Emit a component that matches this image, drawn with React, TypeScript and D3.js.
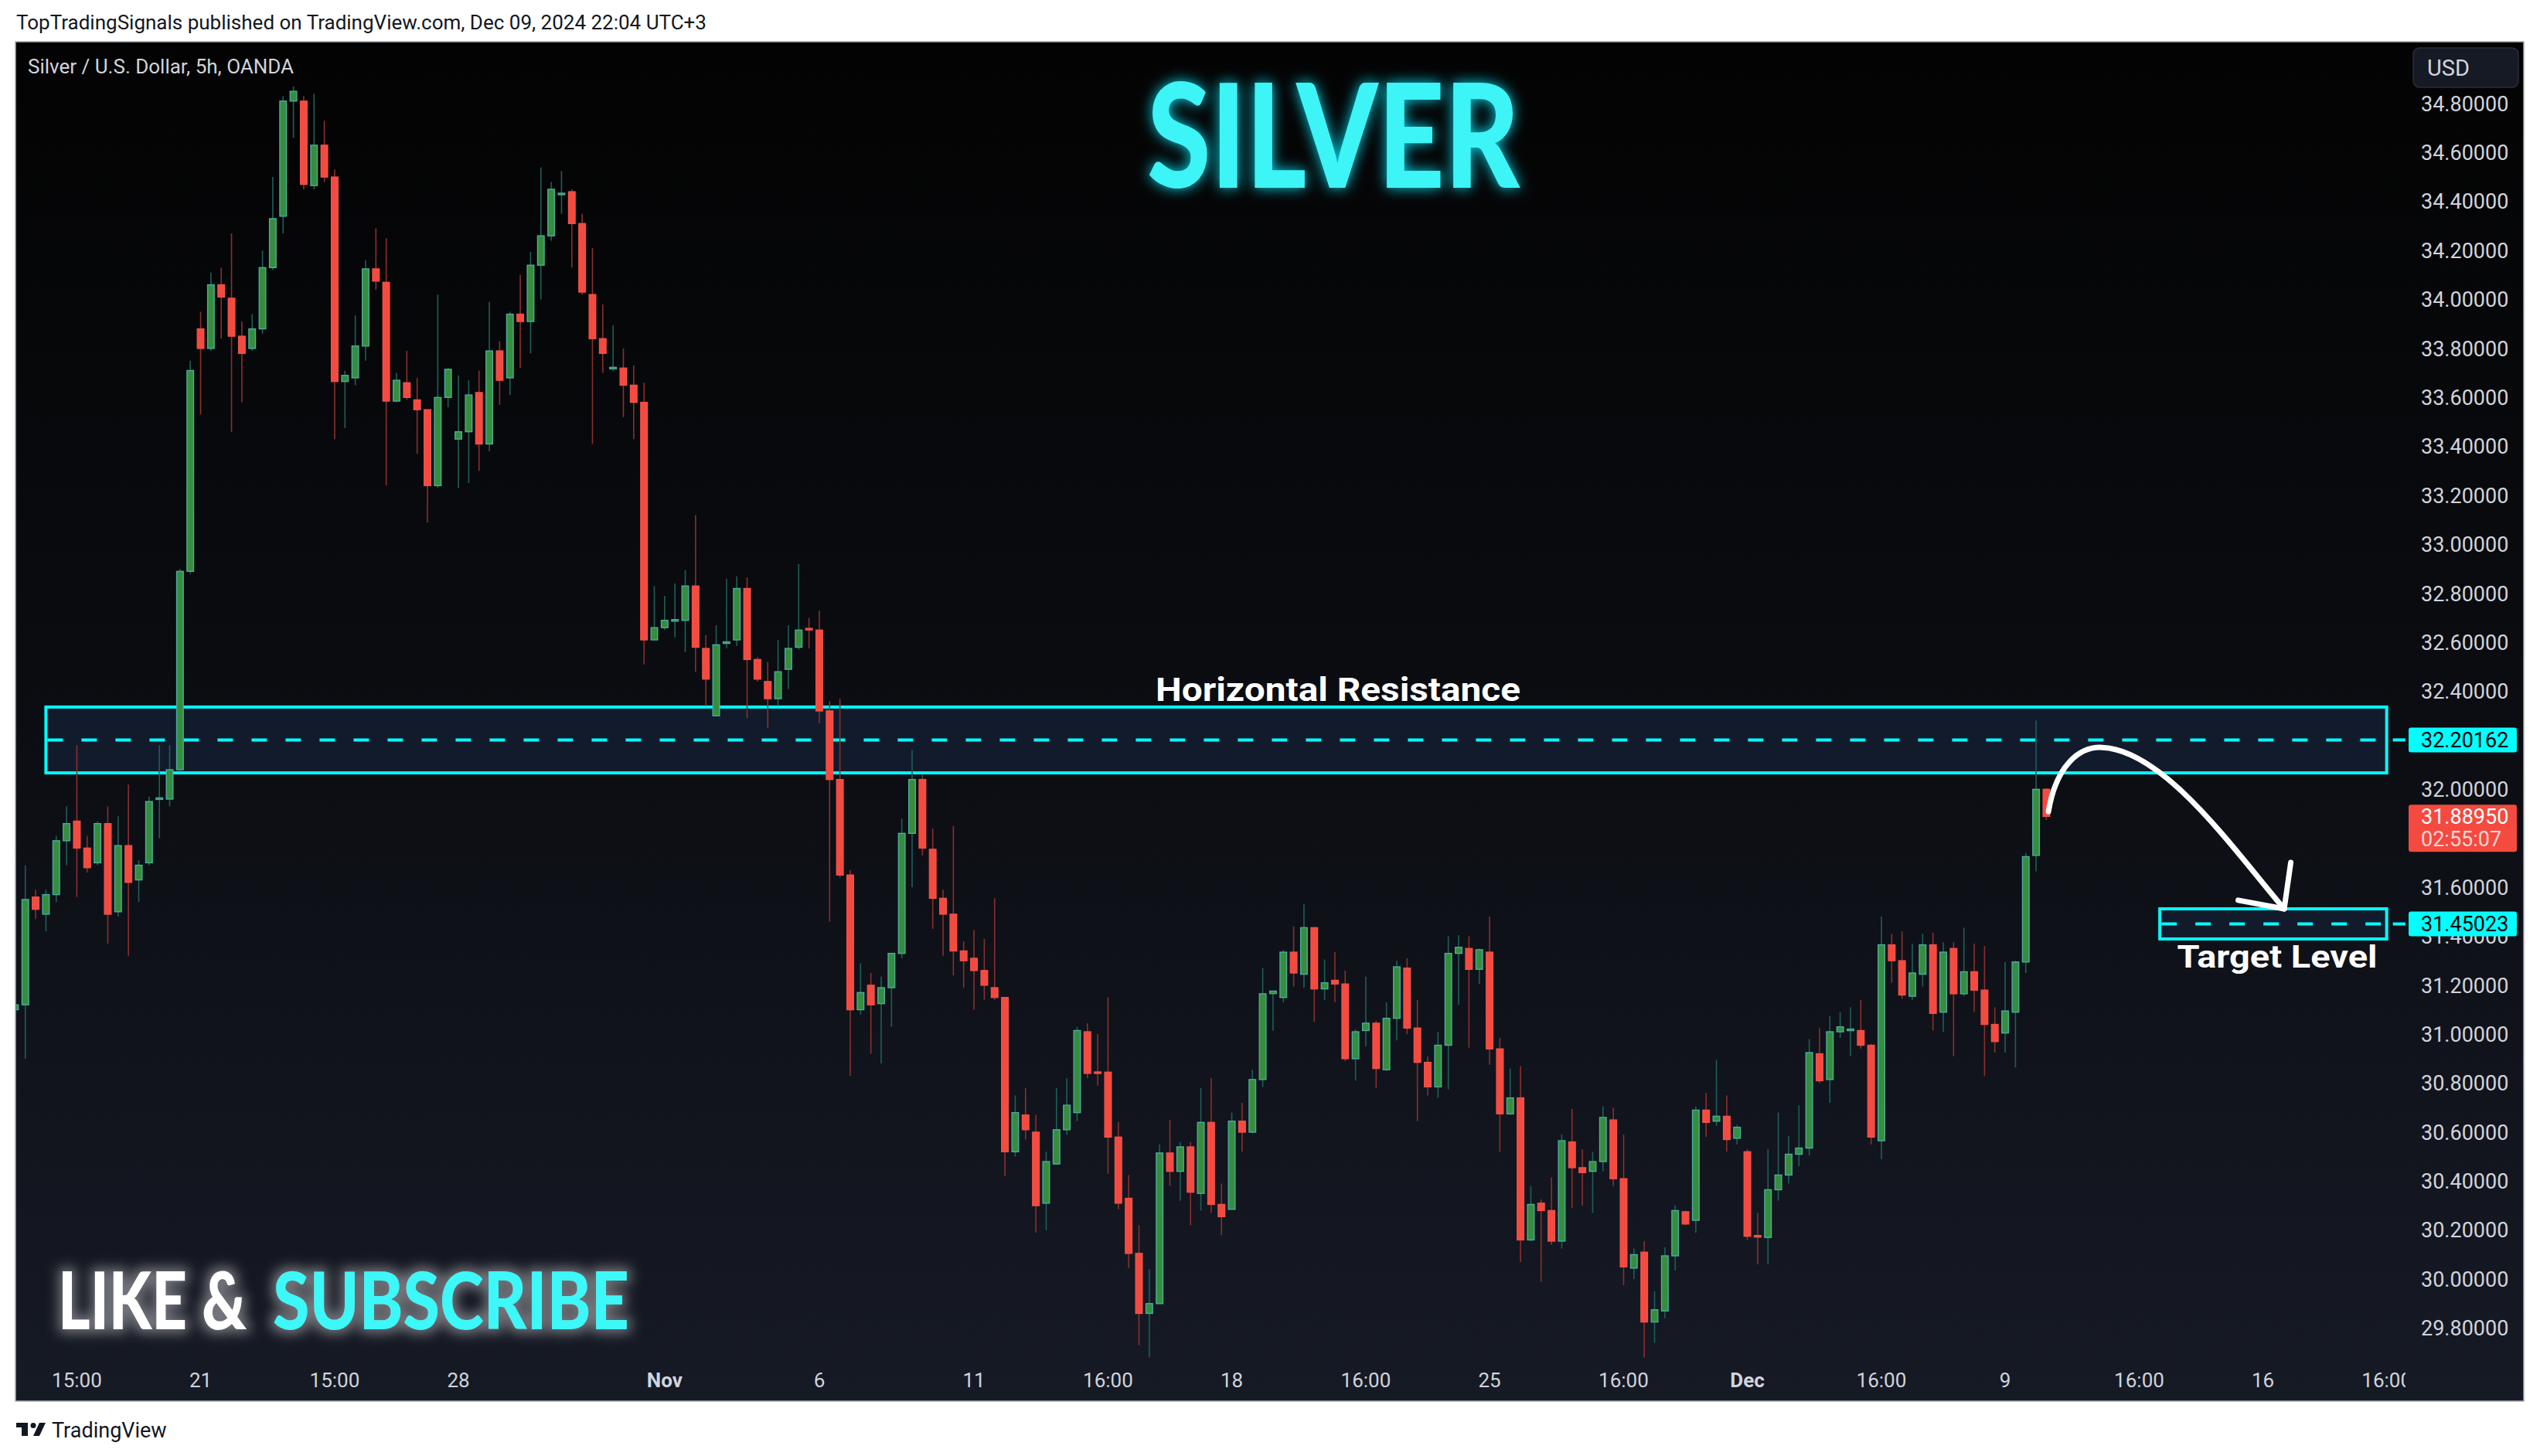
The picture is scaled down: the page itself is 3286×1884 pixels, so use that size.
import { useEffect, useLayoutEffect, useRef, useState } from 'react';
import * as d3 from 'd3';

// 5h candles, Oct 17 -> Dec 9 2024
const opens = [
  31.10, 31.12, 31.56, 31.49, 31.57, 31.79, 31.87, 31.76, 31.70, 31.86,
  31.50, 31.77, 31.63, 31.70, 31.96, 31.96, 32.08, 32.89, 33.88, 33.80,
  34.06, 34.005, 33.85, 33.80, 33.88, 34.13, 34.34, 34.81, 34.81, 34.465,
  34.63, 34.50, 33.665, 33.68, 33.81, 34.125, 34.07, 33.585, 33.66, 33.59,
  33.55, 33.24, 33.60, 33.43, 33.46, 33.62, 33.41, 33.79, 33.68, 33.94,
  33.91, 34.14, 34.26, 34.433, 34.44, 34.31, 34.02, 33.84, 33.722, 33.72,
  33.65, 33.58, 32.61, 32.66, 32.692, 32.69, 32.83, 32.575, 32.30, 32.601,
  32.61, 32.82, 32.53, 32.44, 32.37, 32.49, 32.58, 32.657, 32.65, 32.32,
  32.04, 31.65, 31.10, 31.20, 31.125, 31.19, 31.33, 31.82, 32.04, 31.755,
  31.555, 31.49, 31.34, 31.31, 31.26, 31.19, 31.15, 30.52, 30.67, 30.60,
  30.31, 30.47, 30.61, 30.68, 31.01, 30.846, 30.845, 30.58, 30.33, 30.105,
  29.86, 29.90, 30.515, 30.44, 30.54, 30.35, 30.64, 30.305, 30.285, 30.645,
  30.60, 30.815, 31.166, 31.15, 31.335, 31.245, 31.435, 31.185, 31.22, 31.205,
  30.90, 31.015, 31.045, 30.855, 31.065, 31.27, 31.025, 30.885, 30.785, 30.955,
  31.33, 31.35, 31.265, 31.335, 30.94, 30.675, 30.74, 30.16, 30.31, 30.28,
  30.155, 30.56, 30.455, 30.44, 30.48, 30.65, 30.41, 30.045, 30.11, 29.825,
  29.87, 30.095, 30.275, 30.24, 30.69, 30.645, 30.665, 30.575, 30.52, 30.178,
  30.17, 30.365, 30.425, 30.51, 30.535, 30.92, 30.815, 31.01, 31.020, 31.015,
  30.955, 30.565, 31.365, 31.30, 31.155, 31.245, 31.365, 31.09, 31.35, 31.165,
  31.255, 31.18, 31.04, 31.005, 31.09, 31.295, 31.73, 32.00,
];
const highs = [
  31.21, 31.69, 31.59, 31.59, 31.81, 31.93, 32.18, 31.81, 31.87, 31.93,
  31.89, 32.02, 31.71, 31.97, 32.18, 32.18, 32.90, 33.75, 33.95, 34.11,
  34.13, 34.27, 33.91, 33.94, 34.20, 34.50, 34.83, 34.87, 34.83, 34.84,
  34.73, 34.53, 33.71, 33.935, 34.16, 34.29, 34.25, 33.70, 33.79, 33.68,
  33.55, 34.02, 33.72, 33.69, 33.67, 33.71, 33.99, 33.83, 33.95, 34.10,
  34.195, 34.54, 34.48, 34.525, 34.45, 34.35, 34.21, 33.98, 33.895, 33.80,
  33.73, 33.66, 32.83, 32.79, 32.84, 32.895, 33.12, 32.63, 32.67, 32.86,
  32.87, 32.865, 32.54, 32.52, 32.61, 32.67, 32.92, 32.70, 32.73, 32.36,
  32.37, 31.67, 31.29, 31.25, 31.235, 31.33, 31.88, 32.16, 32.06, 31.84,
  31.59, 31.85, 31.38, 31.425, 31.39, 31.555, 31.15, 30.75, 30.78, 30.67,
  30.52, 30.78, 30.82, 31.03, 31.045, 31.00, 31.15, 30.64, 30.425, 30.22,
  30.04, 30.55, 30.65, 30.56, 30.56, 30.78, 30.82, 30.39, 30.68, 30.72,
  30.855, 31.27, 31.176, 31.345, 31.44, 31.53, 31.435, 31.305, 31.335, 31.26,
  31.02, 31.235, 31.055, 31.13, 31.30, 31.31, 31.14, 30.91, 31.01, 31.40,
  31.405, 31.40, 31.35, 31.48, 30.985, 30.86, 30.87, 30.38, 30.325, 30.415,
  30.59, 30.695, 30.53, 30.52, 30.705, 30.70, 30.59, 30.125, 30.155, 29.95,
  30.13, 30.30, 30.28, 30.705, 30.76, 30.895, 30.75, 30.63, 30.53, 30.27,
  30.53, 30.68, 30.585, 30.71, 30.98, 31.025, 31.075, 31.09, 31.11, 31.14,
  30.96, 31.48, 31.41, 31.42, 31.37, 31.41, 31.415, 31.375, 31.375, 31.435,
  31.37, 31.36, 31.11, 31.295, 31.30, 31.74, 32.28, 32.005,
];
const lows = [
  31.04, 30.90, 31.47, 31.42, 31.54, 31.69, 31.56, 31.66, 31.69, 31.37,
  31.48, 31.32, 31.54, 31.69, 31.80, 31.93, 32.075, 32.88, 33.53, 33.79,
  33.84, 33.46, 33.58, 33.79, 33.86, 34.12, 34.27, 34.66, 34.45, 34.45,
  34.48, 33.43, 33.475, 33.65, 33.75, 34.04, 33.24, 33.58, 33.59, 33.37,
  33.09, 33.23, 33.56, 33.23, 33.25, 33.30, 33.38, 33.57, 33.61, 33.72,
  33.78, 34.00, 34.24, 34.35, 34.13, 34.02, 33.41, 33.70, 33.707, 33.52,
  33.43, 32.51, 32.61, 32.65, 32.62, 32.56, 32.48, 32.34, 32.30, 32.575,
  32.585, 32.29, 32.44, 32.25, 32.34, 32.41, 32.57, 32.575, 32.27, 31.46,
  31.64, 30.83, 31.08, 30.92, 30.88, 31.03, 31.31, 31.60, 31.73, 31.43,
  31.32, 31.24, 31.19, 31.10, 31.14, 31.14, 30.42, 30.50, 30.57, 30.19,
  30.20, 30.47, 30.59, 30.645, 30.82, 30.79, 30.43, 30.285, 30.045, 29.73,
  29.68, 29.90, 30.38, 30.32, 30.22, 30.28, 30.27, 30.18, 30.285, 30.52,
  30.595, 30.785, 31.014, 31.13, 31.195, 31.19, 31.05, 31.14, 31.13, 30.89,
  30.81, 30.95, 30.78, 30.85, 30.975, 31.00, 30.645, 30.75, 30.74, 30.775,
  31.12, 30.945, 31.205, 30.875, 30.52, 30.67, 30.07, 30.155, 29.99, 30.14,
  30.125, 30.29, 30.30, 30.27, 30.44, 30.38, 29.975, 30.00, 29.68, 29.74,
  29.84, 30.035, 30.22, 30.19, 30.58, 30.625, 30.52, 30.55, 30.16, 30.06,
  30.06, 30.32, 30.39, 30.46, 30.505, 30.80, 30.72, 30.985, 30.91, 30.94,
  30.55, 30.49, 31.21, 31.145, 31.14, 31.195, 31.015, 31.01, 30.91, 31.155,
  31.09, 30.83, 30.925, 30.925, 30.865, 31.25, 31.665, 31.875,
];
const closes = [
  31.12, 31.55, 31.51, 31.57, 31.79, 31.86, 31.76, 31.68, 31.86, 31.49,
  31.77, 31.62, 31.69, 31.95, 31.965, 32.08, 32.89, 33.71, 33.80, 34.06,
  34.01, 33.85, 33.78, 33.88, 34.13, 34.33, 34.81, 34.85, 34.47, 34.63,
  34.50, 33.665, 33.69, 33.81, 34.125, 34.075, 33.585, 33.67, 33.60, 33.55,
  33.24, 33.60, 33.715, 33.46, 33.61, 33.41, 33.79, 33.67, 33.94, 33.91,
  34.14, 34.26, 34.45, 34.434, 34.31, 34.03, 33.84, 33.78, 33.723, 33.65,
  33.58, 32.61, 32.66, 32.69, 32.693, 32.83, 32.58, 32.45, 32.59, 32.602,
  32.82, 32.53, 32.45, 32.37, 32.48, 32.575, 32.65, 32.653, 32.32, 32.04,
  31.65, 31.10, 31.17, 31.12, 31.19, 31.33, 31.82, 32.04, 31.76, 31.555,
  31.49, 31.34, 31.30, 31.26, 31.20, 31.15, 30.52, 30.68, 30.61, 30.30,
  30.48, 30.61, 30.71, 31.015, 30.84, 30.845, 30.58, 30.31, 30.105, 29.86,
  29.90, 30.515, 30.44, 30.54, 30.355, 30.64, 30.305, 30.255, 30.645, 30.60,
  30.815, 31.165, 31.176, 31.335, 31.25, 31.435, 31.185, 31.21, 31.205, 30.90,
  31.01, 31.045, 30.86, 31.065, 31.275, 31.025, 30.885, 30.785, 30.955, 31.33,
  31.355, 31.265, 31.345, 30.94, 30.675, 30.74, 30.16, 30.305, 30.28, 30.155,
  30.565, 30.455, 30.435, 30.48, 30.66, 30.41, 30.05, 30.10, 29.825, 29.875,
  30.095, 30.28, 30.225, 30.69, 30.64, 30.665, 30.57, 30.62, 30.175, 30.176,
  30.365, 30.425, 30.51, 30.535, 30.925, 30.81, 31.01, 31.03, 31.021, 30.955,
  30.58, 31.365, 31.30, 31.16, 31.25, 31.365, 31.085, 31.335, 31.165, 31.255,
  31.18, 31.04, 30.97, 31.095, 31.295, 31.725, 32.00, 31.8895,
];

// time axis: candle index of each label
const timeTickIndex = [6, 18, 31, 43, 63, 78, 93, 106, 118, 131, 143, 156, 168, 181, 193, 206, 218, 230];
const timeTickLabels = ['15:00', '21', '15:00', '28', 'Nov', '6', '11', '16:00', '18', '16:00', '25', '16:00', 'Dec', '16:00', '9', '16:00', '16', '16:00'];
const monthLabels = ['Nov', 'Dec'];

const resistanceZone = [32.067, 32.336];
const resistanceLevel = 32.20162;
const targetZone = [31.389, 31.512];
const targetLevel = 31.45023;
const zoneStartIndex = [3, 208];
const zoneEndIndex = 230;
const lastPrice = 31.8895;
const countdown = '02:55:07';

// arrow drawing (candle index, price)
const arrowPoints: [number, number][] = [
  [197.2, 31.909], [197.95, 32.099], [200.2, 32.175], [202.4, 32.171],
  [208.4, 32.162], [215.2, 31.752], [220.06, 31.512],
];
const arrowHead: [number, number][] = [[220.7, 31.701], [220.06, 31.512], [215.6, 31.547]];

const W = 3286;
const H = 1884;
const panel = { left: 20, top: 54, right: 3265, bottom: 1813 };
const plotRight = 3112;
const axisTop = 1760;

const UP = { body: '#378d3d', border: '#48ad9e', wick: '#1f5f58' };
const DOWN = { body: '#f44a3f', border: '#f2524a', wick: '#8a302d' };
const CYAN = '#00ffff';
const AXIS_TEXT = '#d1d4dc';
const FONT = 'Roboto, "Liberation Sans", sans-serif';
const AXIS_FS = 27;

// text squeezed horizontally to a given width (the banner font is condensed)
function FitText({ x, y, width, fill, children }: { x: number; y: number; width: number; fill: string; children: string }) {
  const ref = useRef<SVGTextElement>(null);
  const [k, setK] = useState(1);
  useLayoutEffect(() => {
    if (!ref.current) return;
    const w = ref.current.getComputedTextLength();
    if (w > 0) setK(width / w);
  }, [width]);
  return (
    <text ref={ref} transform={`translate(${x},${y}) scale(${k},1)`} fontSize={102} fontWeight={900}
      fontFamily="Lato, Roboto, sans-serif" fill={fill}>{children}</text>
  );
}

export default function App() {
  useEffect(() => {
    document.body.style.margin = '0';
    document.body.style.background = '#ffffff';
  }, []);

  const x = d3.scaleLinear().domain([0, 231.75]).range([19.4, 3111]);
  const y = d3.scaleLinear().domain([29.8, 34.8]).range([1718.5, 134]);
  const fmt = d3.format('.5f');

  // badges sit on top of the price scale; labels fully under them are not drawn
  const badgeBands: [number, number][] = [
    [y(resistanceLevel) - 16, y(resistanceLevel) + 16],
    [y(targetLevel) - 16, y(targetLevel) + 16],
    [y(lastPrice) - 15, y(lastPrice) + 46],
  ];
  const priceTicks = y.ticks(25).filter(t => {
    const ty = y(t);
    return !badgeBands.some(([a, b]) => ty - 9 >= a && ty + 9 <= b);
  });

  const bodyW = 8.6;

  const arrow = d3.path();
  const ap = arrowPoints.map(([i, p]) => [x(i), y(p)]);
  arrow.moveTo(ap[0][0], ap[0][1]);
  arrow.bezierCurveTo(ap[1][0], ap[1][1], ap[2][0], ap[2][1], ap[3][0], ap[3][1]);
  arrow.bezierCurveTo(ap[4][0], ap[4][1], ap[5][0], ap[5][1], ap[6][0], ap[6][1]);
  const head = d3.line()(arrowHead.map(([i, p]) => [x(i), y(p)] as [number, number]));

  const zone = (lo: number, hi: number, start: number, key: string) => (
    <rect key={key} x={x(start)} y={y(hi)} width={x(zoneEndIndex) - x(start)} height={y(lo) - y(hi)}
      fill="#121b2c" stroke={CYAN} strokeWidth={4} />
  );
  const dashed = (level: number, start: number, key: string) => (
    <g key={key}>
      <line x1={x(start) + 2} x2={x(zoneEndIndex) - 2} y1={y(level)} y2={y(level)}
        stroke={CYAN} strokeWidth={4} strokeDasharray="20 24" />
      <line x1={x(zoneEndIndex) + 8} x2={plotRight + 4} y1={y(level)} y2={y(level)} stroke={CYAN} strokeWidth={4} />
    </g>
  );
  const badge = (level: number, key: string) => (
    <g key={key}>
      <rect x={3116} y={y(level) - 16} width={140} height={32} rx={3} fill={CYAN} />
      <text x={3132} y={y(level)} dy="0.36em" fontSize={AXIS_FS} fontFamily={FONT} fill="#000">{fmt(level)}</text>
    </g>
  );

  return (
    <svg width={W} height={H} style={{ display: 'block' }} xmlns="http://www.w3.org/2000/svg">
      <defs>
        <linearGradient id="bg" x1="0" y1="0" x2="0" y2="1">
          <stop offset="0" stopColor="#030303" />
          <stop offset="0.5" stopColor="#0b0d12" />
          <stop offset="1" stopColor="#161a25" />
        </linearGradient>
        <clipPath id="plot">
          <rect x={panel.left + 1} y={panel.top} width={plotRight - panel.left - 1} height={axisTop - panel.top} />
        </clipPath>
        <clipPath id="timeAxis">
          <rect x={panel.left} y={axisTop} width={plotRight - panel.left} height={panel.bottom - axisTop} />
        </clipPath>
        <filter id="glowCyan" x="-20%" y="-40%" width="140%" height="180%">
          <feGaussianBlur in="SourceAlpha" stdDeviation="9" result="blur" />
          <feFlood floodColor="#00eaff" floodOpacity="0.9" />
          <feComposite in2="blur" operator="in" result="glow" />
          <feMerge>
            <feMergeNode in="glow" />
            <feMergeNode in="SourceGraphic" />
          </feMerge>
        </filter>
        <filter id="glowWhite" x="-10%" y="-40%" width="120%" height="180%">
          <feMorphology in="SourceAlpha" operator="dilate" radius="5" result="fat" />
          <feGaussianBlur in="fat" stdDeviation="8" result="blur" />
          <feFlood floodColor="#ffffff" floodOpacity="0.4" />
          <feComposite in2="blur" operator="in" result="glow" />
          <feMerge>
            <feMergeNode in="glow" />
            <feMergeNode in="SourceGraphic" />
          </feMerge>
        </filter>
      </defs>

      <rect x={0} y={0} width={W} height={H} fill="#ffffff" />
      <text x={21} y={38} fontSize={26} fontFamily={FONT} fill="#131722">
        TopTradingSignals published on TradingView.com, Dec 09, 2024 22:04 UTC+3
      </text>

      {/* chart panel */}
      <rect x={panel.left} y={panel.top} width={panel.right - panel.left} height={panel.bottom - panel.top}
        fill="url(#bg)" stroke="#a9acb4" strokeWidth={1.5} />

      <g clipPath="url(#plot)">
        {zone(resistanceZone[0], resistanceZone[1], zoneStartIndex[0], 'rz')}
        {zone(targetZone[0], targetZone[1], zoneStartIndex[1], 'tz')}
        {dashed(resistanceLevel, zoneStartIndex[0], 'rl')}
        {dashed(targetLevel, zoneStartIndex[1], 'tl')}

        {opens.map((o, i) => {
          const c = closes[i];
          const up = c >= o;
          const col = up ? UP : DOWN;
          const cx = x(i);
          const top = y(Math.max(o, c));
          const h = Math.max(y(Math.min(o, c)) - top, 2);
          return (
            <g key={i}>
              <line x1={cx} x2={cx} y1={y(highs[i])} y2={y(lows[i])} stroke={col.wick} strokeWidth={1.6} />
              <rect x={cx - bodyW / 2} y={top} width={bodyW} height={h} fill={col.body} stroke={col.border} strokeWidth={1.4} />
            </g>
          );
        })}
      </g>

      <text x={1731} y={y(resistanceZone[1]) - 8} textAnchor="middle" fontSize={43} fontWeight={700}
        fontFamily={FONT} fill="#ffffff" textLength={472} lengthAdjust="spacingAndGlyphs">Horizontal Resistance</text>
      <text x={2946} y={y(targetZone[0]) + 37} textAnchor="middle" fontSize={40} fontWeight={700}
        fontFamily={FONT} fill="#ffffff" textLength={259} lengthAdjust="spacingAndGlyphs">Target Level</text>

      <path d={arrow.toString()} fill="none" stroke="#ffffff" strokeWidth={7} strokeLinecap="round" />
      <path d={head ?? ''} fill="none" stroke="#ffffff" strokeWidth={7} strokeLinecap="round" strokeLinejoin="round" />

      {/* titles */}
      <text x={36} y={86} dy="0.35em" fontSize={26} fontFamily={FONT} fill={AXIS_TEXT}>Silver / U.S. Dollar, 5h, OANDA</text>
      <text x={1725} y={243} textAnchor="middle" fontSize={186} fontWeight={900} fontFamily="Lato, Roboto, sans-serif"
        fill="#3ef4f6" filter="url(#glowCyan)" textLength={482} lengthAdjust="spacingAndGlyphs">SILVER</text>
      <g filter="url(#glowWhite)">
        <FitText x={75} y={1720} width={244} fill="#ffffff">LIKE &amp;</FitText>
        <FitText x={353} y={1720} width={461} fill="#3cf8f8">SUBSCRIBE</FitText>
      </g>

      {/* price axis */}
      <rect x={3122} y={62} width={136} height={51} rx={8} fill="#161a24" stroke="#2a2e39" strokeWidth={1.5} />
      <text x={3140} y={88} dy="0.36em" fontSize={29} fontFamily={FONT} fill={AXIS_TEXT}>USD</text>
      {priceTicks.map(t => (
        <text key={t} x={3132} y={y(t)} dy="0.36em" fontSize={AXIS_FS} fontFamily={FONT} fill={AXIS_TEXT}>{fmt(t)}</text>
      ))}
      {badge(resistanceLevel, 'rb')}
      {badge(targetLevel, 'tb')}
      <rect x={3116} y={y(lastPrice) - 15} width={140} height={61} rx={3} fill="#f44a3f" />
      <text x={3132} y={y(lastPrice)} dy="0.36em" fontSize={AXIS_FS} fontFamily={FONT} fill="#ffffff">{fmt(lastPrice)}</text>
      <text x={3132} y={y(lastPrice) + 29} dy="0.36em" fontSize={AXIS_FS} fontFamily={FONT} fill="#ffffff" fillOpacity={0.78}>{countdown}</text>

      {/* time axis */}
      <g clipPath="url(#timeAxis)">
        {timeTickIndex.map((ti, k) => (
          <text key={k} x={x(ti)} y={1786} dy="0.36em" textAnchor="middle" fontSize={26} fontFamily={FONT}
            fontWeight={monthLabels.includes(timeTickLabels[k]) ? 700 : 400} fill={AXIS_TEXT}>{timeTickLabels[k]}</text>
        ))}
      </g>

      {/* footer logo */}
      <g fill="#131722">
        <rect x={21} y={1841} width={15} height={6} />
        <rect x={28} y={1841} width={8} height={17} />
        <circle cx={43} cy={1844.5} r={3.5} />
        <path d="M51 1841 H59 L51 1858 H43 Z" />
      </g>
      <text x={67} y={1850} dy="0.36em" fontSize={27} fontFamily={FONT} fill="#131722">TradingView</text>
    </svg>
  );
}
